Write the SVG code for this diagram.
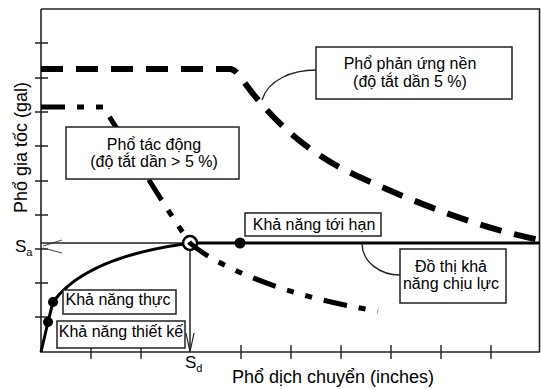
<svg xmlns="http://www.w3.org/2000/svg" width="541" height="389" viewBox="0 0 541 389">
<style>
text{font-family:"Liberation Sans",Arial,sans-serif;fill:#000}
.ax{stroke:#222;stroke-width:1.6;fill:none}
.tk{stroke:#222;stroke-width:1.4}
.box{fill:#fff;stroke:#222;stroke-width:1.5}
.lead{fill:none;stroke:#222;stroke-width:1.3}
.lbl{font-size:16px;text-anchor:middle}
</style>
<rect width="541" height="389" fill="#fff"/>
<g id="frame">
<path class="ax" d="M41,9 H539.5 V352 M41,9 V352 H540"/>
<g class="tk">
<path d="M35,43H48M35,78H48M35,112H48M35,146H48M35,181H48M35,215H48M35,249H48M35,283H48M35,317H48"/>
<path d="M91,345V359M141,345V359M241,345V359M291,345V359M341,345V359M391,345V359M441,345V359M491,345V359"/>
</g>
<path d="M43,246 L62,240 M43,248 L62,253" stroke="#444" stroke-width="1" fill="none"/>
<path d="M186,333 L190,352 L194,333 M188,342 L190,352" stroke="#222" stroke-width="1.2" fill="none"/>
<text x="15" y="252" font-size="17">S<tspan font-size="11" dy="4">a</tspan></text>
<text x="185" y="368" font-size="17">S<tspan font-size="11" dy="4">d</tspan></text>
<text x="232" y="383" font-size="18">Phổ dịch chuyển (inches)</text>
<text transform="translate(27,213) rotate(-90)" font-size="18">Phổ gia tốc (gal)</text>
</g>
<g id="response-spectrum">
<path d="M41,69 H231 Q236,70 242,79 C268,116 305,152 355,175 C418,204 480,228 540,240" fill="none" stroke="#000" stroke-width="6" stroke-dasharray="22 13"/>
</g>
<g id="demand-spectrum">
<path d="M41,107 H103 C125,140 160,200 190,243 C212,263 280,296 378,311" fill="none" stroke="#000" stroke-width="5" stroke-dasharray="24 12 7 12 7 12"/>
</g>
<g id="capacity-curve">
<path d="M41,243 H184" stroke="#222" stroke-width="1.5"/>
<path d="M197,243 H540" stroke="#000" stroke-width="3"/>
<path d="M190,250 V352" stroke="#222" stroke-width="1.5"/>
<path d="M41,352 L48,322 L53,302 C75,272 120,253 184,244" fill="none" stroke="#000" stroke-width="3"/>
<circle cx="190" cy="243" r="7" fill="none" stroke="#000" stroke-width="2.5"/>
<circle cx="240" cy="243" r="5.5" fill="#000"/>
<circle cx="53" cy="302" r="5" fill="#000"/>
<circle cx="48" cy="322" r="5" fill="#000"/>
</g>
<g id="connectors">
<path class="lead" d="M316,70 C292,70 268,80 262,100"/>
<path class="lead" d="M362,243 C362,262 380,275 400,275"/>
</g>
<g id="node-response">
<rect class="box" x="316" y="47" width="196" height="52"/>
<text class="lbl" x="410" y="69">Phổ phản ứng nền</text>
<text class="lbl" x="410" y="87">(độ tắt dần 5 %)</text>
</g>
<g id="node-demand">
<rect class="box" x="66" y="127" width="173" height="52"/>
<text class="lbl" x="154" y="150">Phổ tác động</text>
<text class="lbl" x="154" y="167">(độ tắt dần &gt; 5 %)</text>
</g>
<g id="node-ultimate">
<rect class="box" x="245" y="213" width="136" height="23"/>
<text class="lbl" x="314" y="230" font-size="15.5">Khả năng tới hạn</text>
</g>
<g id="node-capacity">
<rect class="box" x="400" y="249" width="106" height="54"/>
<text class="lbl" x="451" y="272">Đồ thị khả</text>
<text class="lbl" x="451" y="289">năng chịu lực</text>
</g>
<g id="node-actual">
<rect class="box" x="63" y="290" width="113" height="24"/>
<text class="lbl" x="118" y="305" font-size="15.5">Khả năng thực</text>
</g>
<g id="node-design">
<rect class="box" x="57" y="321" width="128" height="27"/>
<text class="lbl" x="121" y="337" font-size="15">Khả năng thiết kế</text>
</g>
</svg>
